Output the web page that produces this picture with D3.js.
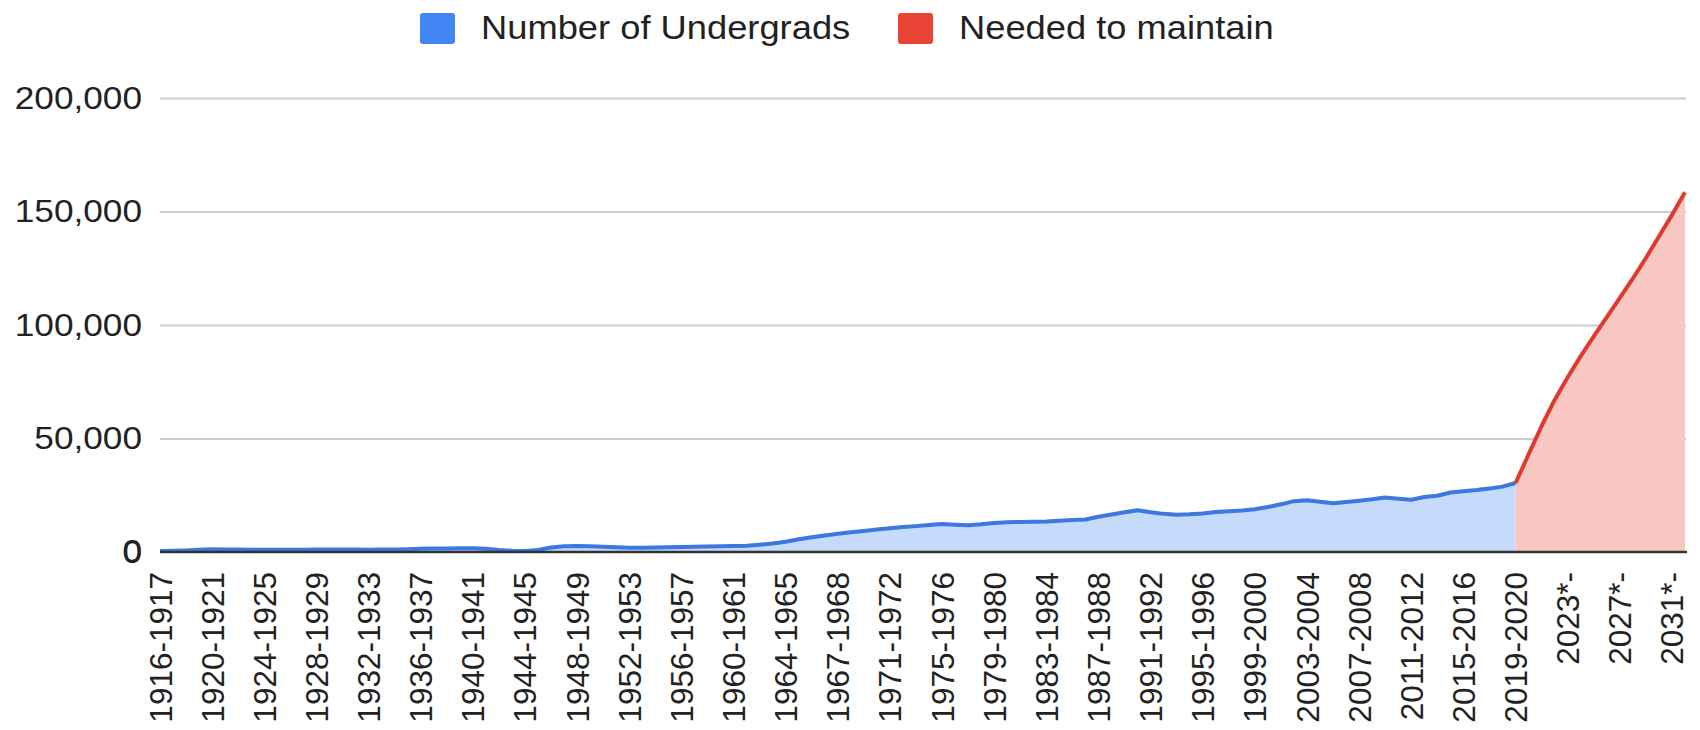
<!DOCTYPE html>
<html>
<head>
<meta charset="utf-8">
<script src="https://cdnjs.cloudflare.com/ajax/libs/d3/7.8.5/d3.min.js"></script>
<style>
  html, body { margin: 0; padding: 0; background: #fff; }
  svg { display: block; font-family: "Liberation Sans", Arial, sans-serif; }
</style>
</head>
<body>
<svg id="chart" width="1700" height="730"></svg>
<script>
// school years on the x axis (one extra 1965 row in the source sheet)
const categories = [
  "1916-1917", "1917-1918", "1918-1919", "1919-1920", "1920-1921", "1921-1922", "1922-1923", "1923-1924",
  "1924-1925", "1925-1926", "1926-1927", "1927-1928", "1928-1929", "1929-1930", "1930-1931", "1931-1932",
  "1932-1933", "1933-1934", "1934-1935", "1935-1936", "1936-1937", "1937-1938", "1938-1939", "1939-1940",
  "1940-1941", "1941-1942", "1942-1943", "1943-1944", "1944-1945", "1945-1946", "1946-1947", "1947-1948",
  "1948-1949", "1949-1950", "1950-1951", "1951-1952", "1952-1953", "1953-1954", "1954-1955", "1955-1956",
  "1956-1957", "1957-1958", "1958-1959", "1959-1960", "1960-1961", "1961-1962", "1962-1963", "1963-1964",
  "1964-1965", "Summer 1965", "1965-1966", "1966-1967", "1967-1968", "1968-1969", "1969-1970", "1970-1971",
  "1971-1972", "1972-1973", "1973-1974", "1974-1975", "1975-1976", "1976-1977", "1977-1978", "1978-1979",
  "1979-1980", "1980-1981", "1981-1982", "1982-1983", "1983-1984", "1984-1985", "1985-1986", "1986-1987",
  "1987-1988", "1988-1989", "1989-1990", "1990-1991", "1991-1992", "1992-1993", "1993-1994", "1994-1995",
  "1995-1996", "1996-1997", "1997-1998", "1998-1999", "1999-2000", "2000-2001", "2001-2002", "2002-2003",
  "2003-2004", "2004-2005", "2005-2006", "2006-2007", "2007-2008", "2008-2009", "2009-2010", "2010-2011",
  "2011-2012", "2012-2013", "2013-2014", "2014-2015", "2015-2016", "2016-2017", "2017-2018", "2018-2019",
  "2019-2020", "2020*-", "2021*-", "2022*-", "2023*-", "2024*-", "2025*-", "2026*-",
  "2027*-", "2028*-", "2029*-", "2030*-", "2031*-", "2032*-"
];

// Number of Undergrads, 1916-1917 .. 2019-2020
const undergrads = [
  400, 500, 700, 1000, 1200, 1150, 1050, 1000,
  950, 950, 1000, 1000, 1050, 1100, 1100, 1050,
  1000, 1050, 1150, 1250, 1400, 1500, 1550, 1600,
  1600, 1450, 900, 500, 400, 900, 2000, 2500,
  2600, 2500, 2300, 2100, 1900, 1900, 2000, 2100,
  2200, 2300, 2400, 2500, 2600, 2800, 3200, 3700,
  4500, 5600, 6500, 7300, 8000, 8700, 9300, 9900,
  10500, 11000, 11400, 11900, 12300, 12000, 11800, 12200,
  12800, 13100, 13200, 13300, 13400, 13800, 14100, 14300,
  15500, 16500, 17500, 18400, 17500, 16800, 16400, 16600,
  17000, 17600, 18000, 18300, 18800, 19800, 21000, 22400,
  22800, 22100, 21500, 22000, 22600, 23200, 24000, 23500,
  23000, 24200, 24800, 26200, 26800, 27300, 28000, 28800,
  30400
];

// Needed to maintain, 2019-2020 .. 2032*-
const needed = [
  30400, 43000, 55500, 67000, 77000, 86300, 95000, 103500,
  112000, 120500, 129500, 139000, 148500, 158500
];

const yTicks = [0, 50000, 100000, 150000, 200000];
const seriesNames = ["Number of Undergrads", "Needed to maintain"];
const seriesColors = ["#4285f4", "#ea4335"];
const lineColors = ["#3c78e0", "#e03a2e"];
const fillColors = ["#c6dafc", "#f9c7c2"];

const svg = d3.select("#chart");
const plotLeft = 160, plotRight = 1685, plotTop = 98, plotBottom = 552;

const x = d3.scalePoint().domain(categories).range([plotLeft, plotRight]);
const y = d3.scaleLinear().domain([0, 200000]).range([plotBottom, plotTop]);

// stretch horizontal text a little, the source picture is wider than it is tall
function widen(sel, k) {
  sel.each(function () {
    const len = this.getComputedTextLength();
    d3.select(this).attr("textLength", len * k).attr("lengthAdjust", "spacingAndGlyphs");
  });
}

// gridlines + y labels
const gy = svg.append("g")
  .attr("transform", `translate(${plotLeft},0)`)
  .call(d3.axisLeft(y).tickValues(yTicks).tickSize(-(plotRight - plotLeft + 1)).tickPadding(18).tickFormat(d3.format(",")));
gy.select(".domain").remove();
gy.selectAll(".tick line").attr("stroke", "#cccccc").attr("stroke-width", 2)
  .filter(d => d === 0).remove();
gy.selectAll(".tick text")
  .attr("fill", "#222").attr("font-size", 32).attr("dy", 10)
  .style("font-family", "'Liberation Sans', Arial, sans-serif")
  .call(widen, 1.1);

const blue = undergrads.map((v, i) => ({ c: categories[i], v }));
const off = undergrads.length - 1;
const red = needed.map((v, i) => ({ c: categories[off + i], v }));

const area = d3.area().x(d => x(d.c)).y0(y(0)).y1(d => y(d.v));
const line = d3.line().x(d => x(d.c)).y(d => y(d.v));

svg.append("path").datum(blue).attr("d", area).attr("fill", fillColors[0]);
svg.append("path").datum(red).attr("d", area).attr("fill", fillColors[1]);
svg.append("path").datum(blue).attr("d", line).attr("fill", "none")
  .attr("stroke", lineColors[0]).attr("stroke-width", 4).attr("stroke-linejoin", "round");
svg.append("path").datum(red).attr("d", line).attr("fill", "none")
  .attr("stroke", lineColors[1]).attr("stroke-width", 4).attr("stroke-linejoin", "round");

// x axis with rotated labels, every 4th category
const gx = svg.append("g")
  .attr("transform", `translate(0,${plotBottom})`)
  .call(d3.axisBottom(x).tickValues(categories.filter((d, i) => i % 4 === 0)).tickSize(0));
gx.select(".domain").attr("stroke", "#333").attr("stroke-width", 2.5)
  .attr("d", `M${plotLeft},0H${plotRight + 2}`);
gx.selectAll(".tick text")
  .attr("transform", "rotate(-90)")
  .attr("x", -20).attr("y", 11).attr("dy", 0)
  .attr("text-anchor", "end")
  .attr("fill", "#222").attr("font-size", 31.5)
  .style("font-family", "'Liberation Sans', Arial, sans-serif");

// "0" label sits on the baseline
svg.append("text")
  .attr("x", plotLeft - 18).attr("y", y(0) + 10)
  .attr("text-anchor", "end").attr("fill", "#222").attr("font-size", 32)
  .text(d3.format(",")(yTicks[0]))
  .call(widen, 1.1);

// legend
const legendX = [420, 898];
const legend = svg.append("g").selectAll("g").data(seriesNames).enter().append("g")
  .attr("transform", (d, i) => `translate(${legendX[i]},13)`);
legend.append("rect")
  .attr("width", 35).attr("height", 31).attr("rx", 3)
  .attr("fill", (d, i) => seriesColors[i]);
legend.append("text")
  .attr("x", 61).attr("y", 26)
  .attr("fill", "#222").attr("font-size", 33)
  .text(d => d)
  .call(widen, 1.1);
</script>
</body>
</html>
